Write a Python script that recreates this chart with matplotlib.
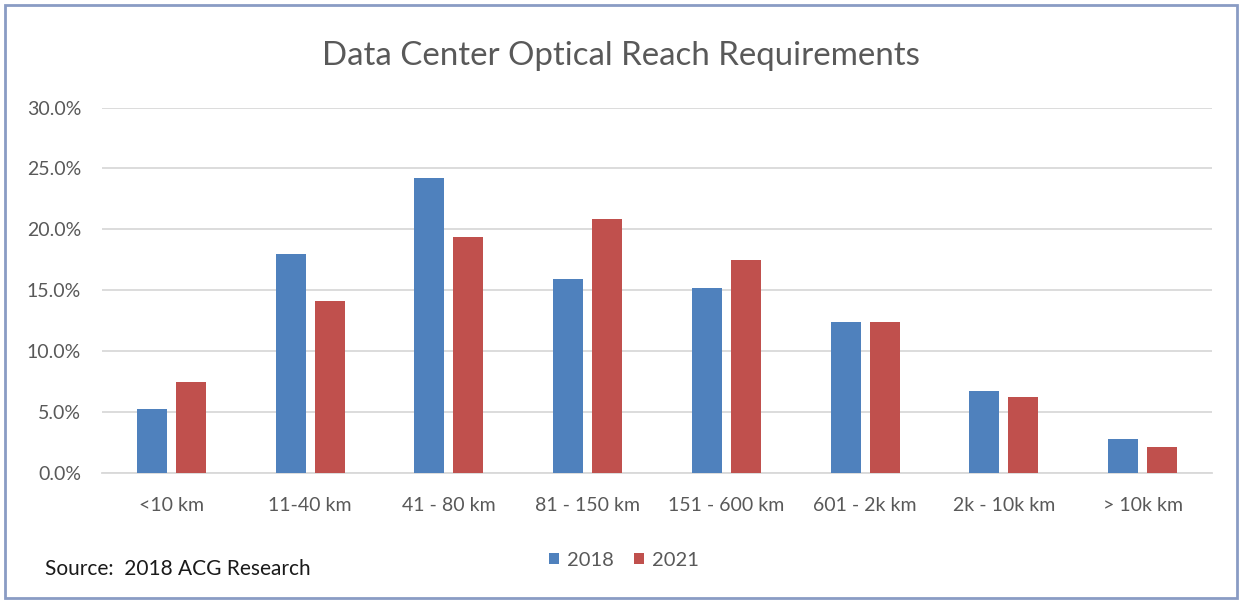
import matplotlib
matplotlib.use("Agg")
import matplotlib.pyplot as plt
import numpy as np
from matplotlib.patches import Rectangle
from matplotlib.ticker import PercentFormatter

plt.rcParams["font.family"] = ["Lato", "DejaVu Sans"]

categories = ["<10 km", "11-40 km", "41 - 80 km", "81 - 150 km",
              "151 - 600 km", "601 - 2k km", "2k - 10k km", "> 10k km"]
share_2018 = [5.25, 18.0, 24.2, 15.9, 15.2, 12.4, 6.75, 2.85]
share_2021 = [7.5, 14.1, 19.4, 20.85, 17.5, 12.4, 6.25, 2.15]
series = ["2018", "2021"]
y_ticks = [0, 5, 10, 15, 20, 25, 30]

BLUE = "#4f81bd"
RED = "#c0504d"
TEXT = "#595959"

fig = plt.figure(figsize=(12.41, 6.03), dpi=100)
fig.patch.set_facecolor("white")
ax = fig.add_axes([0.0822, 0.2151, 0.8944, 0.6066])

x = np.arange(len(categories))
w = 0.216
ax.bar(x - 0.14, share_2018, w, color=BLUE, label=series[0], zorder=3)
ax.bar(x + 0.14, share_2021, w, color=RED, label=series[1], zorder=3)

ax.set_xlim(-0.5, len(categories) - 0.5)
ax.set_ylim(0, 30)
ax.set_yticks(y_ticks)
ax.yaxis.set_major_formatter(PercentFormatter(decimals=1))
ax.set_xticks(x)
ax.set_xticklabels(categories)
ax.grid(axis="y", color="#d9d9d9", linewidth=1.3, zorder=0)
for side in ["top", "right", "left"]:
    ax.spines[side].set_visible(False)
ax.spines["bottom"].set_color("#d9d9d9")
ax.spines["bottom"].set_linewidth(1.3)
ax.tick_params(axis="both", length=0, colors=TEXT)
ax.tick_params(axis="x", pad=17, labelsize=14)
ax.tick_params(axis="y", pad=15, labelsize=14)

fig.text(0.5, 0.907, "Data Center Optical Reach Requirements",
         ha="center", va="center", fontsize=23.8, color=TEXT)

fig.legend(loc="center", bbox_to_anchor=(0.503, 0.071), ncol=2, frameon=False,
           fontsize=14.5, handlelength=0.5, handleheight=0.5, handletextpad=0.4,
           columnspacing=1.0, labelcolor=TEXT)

fig.text(0.036, 0.056, "Source:  2018 ACG Research", ha="left", va="center",
         fontsize=15, color="#1a1a1a")

fig.patches.append(Rectangle((0.004, 0.008), 0.993, 0.984, transform=fig.transFigure,
                             fill=False, edgecolor="#8a9cc4", linewidth=2))

fig.savefig("out.png", dpi=100, facecolor="white")
plt.close(fig)
